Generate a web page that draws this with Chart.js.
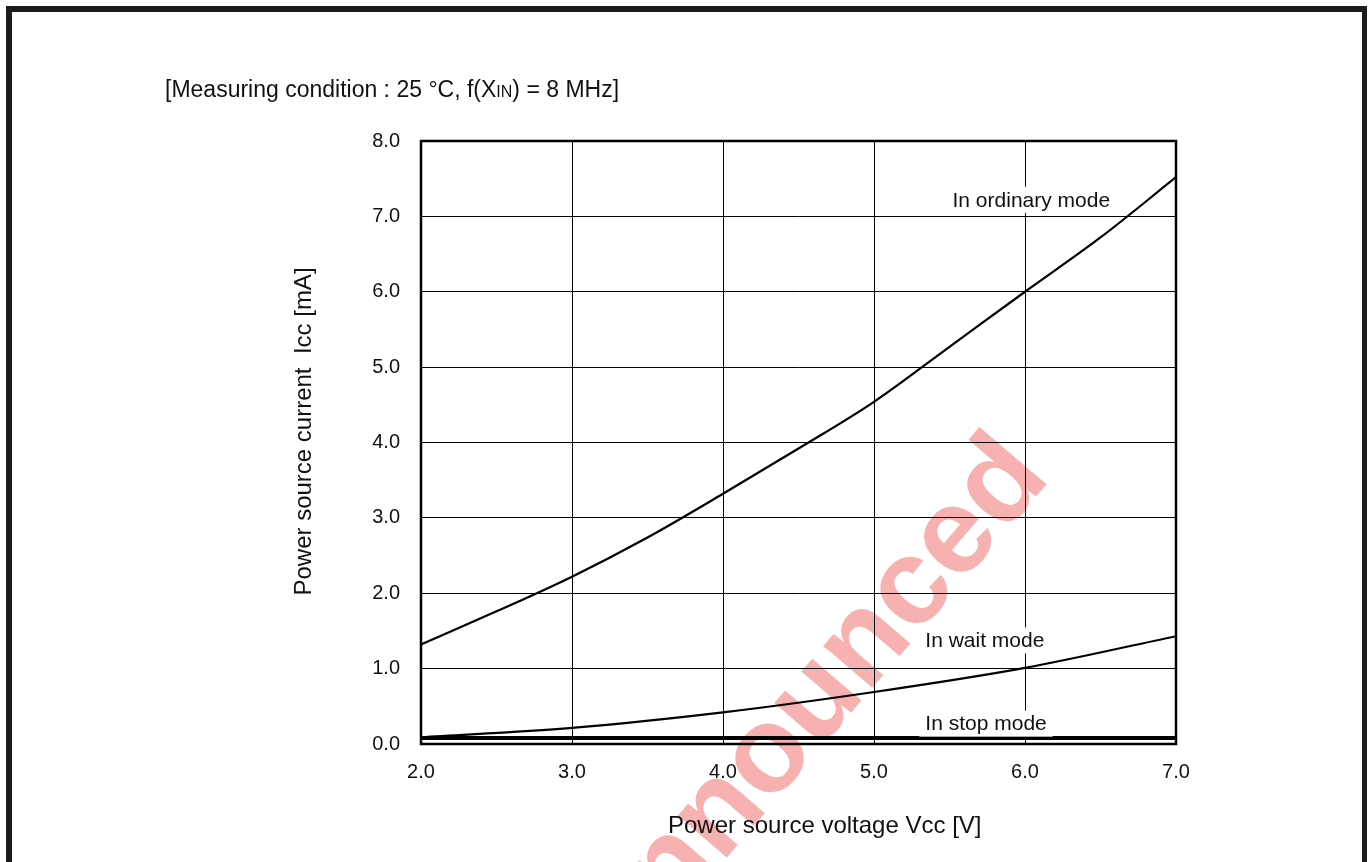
<!DOCTYPE html>
<html>
<head>
<meta charset="utf-8">
<script src="https://cdn.jsdelivr.net/npm/chart.js@4.4.0/dist/chart.umd.min.js"></script>
<style>
  html, body { margin: 0; padding: 0; background: #fff; }
  #wrap { position: relative; width: 1372px; height: 862px; overflow: hidden; }
  #frame { position: absolute; left: 6px; top: 6px; width: 1361px; height: 920px; border: 6px solid #1c1c1c; border-right-width: 5px; box-sizing: border-box; pointer-events: none; }
  #chart { position: absolute; left: 0; top: 0; }
</style>
</head>
<body>
<div id="wrap">
  <canvas id="chart" width="1372" height="862"></canvas>
  <div id="frame"></div>
</div>
<script>
// Vcc [V] vs Icc [mA]
const voltage = [2.0, 2.5, 3.0, 3.5, 4.0, 4.5, 5.0, 5.5, 6.0, 6.5, 7.0];
const ordinaryMode = [1.32, 1.76, 2.22, 2.74, 3.32, 3.92, 4.54, 5.27, 6.0, 6.72, 7.52];
const waitVoltage = [2.0, 3.0, 4.0, 5.0, 6.0, 7.0];
const waitMode = [0.09, 0.215, 0.42, 0.69, 1.01, 1.43];
const stopVoltage = [2.0, 7.0];
const stopMode = [0.08, 0.08];
const seriesNames = ['In ordinary mode', 'In wait mode', 'In stop mode'];

const FONT = '"Liberation Sans", Arial, sans-serif';

function toPoints(xs, ys) {
    return xs.map((x, i) => ({ x: x, y: ys[i] }));
}

const annotate = {
    id: 'annotate',
    beforeDraw(chart) {
        // watermark
        const ctx = chart.ctx;
        ctx.save();
        ctx.translate(1052, 478);
        ctx.rotate(-49.4 * Math.PI / 180);
        ctx.font = 'bold 122px ' + FONT;
        ctx.fillStyle = 'rgba(235, 70, 70, 0.42)';
        ctx.textAlign = 'right';
        ctx.textBaseline = 'alphabetic';
        ctx.fillText('Announced', 0, 0);
        ctx.restore();
    },
    afterDatasetsDraw(chart) {
        const ctx = chart.ctx;
        const xs = chart.scales.x, ys = chart.scales.y;
        const a = chart.chartArea;

        // curve labels with white boxes
        const anchors = [[5.52, 7.22], [5.34, 1.375], [5.34, 0.27]];
        ctx.save();
        ctx.font = '21px ' + FONT;
        ctx.textBaseline = 'middle';
        ctx.textAlign = 'left';
        seriesNames.forEach((name, i) => {
            const px = xs.getPixelForValue(anchors[i][0]);
            const py = ys.getPixelForValue(anchors[i][1]);
            const w = ctx.measureText(name).width;
            ctx.fillStyle = '#fff';
            ctx.fillRect(px - 6, py - 13, w + 12, 26);
            ctx.fillStyle = '#111';
            ctx.fillText(name, px, py + 1);
        });

        // plot frame
        ctx.strokeStyle = '#000';
        ctx.lineWidth = 2.5;
        ctx.strokeRect(a.left, a.top, a.right - a.left, a.bottom - a.top);
        ctx.restore();
    },
    afterDraw(chart) {
        const ctx = chart.ctx;
        const a = chart.chartArea;
        ctx.save();
        ctx.fillStyle = '#111';
        ctx.textBaseline = 'alphabetic';
        ctx.textAlign = 'left';

        // measuring condition caption
        let x = 165;
        const base = 97;
        const parts = [['[Measuring condition : 25 \u00B0C, f(X', 23], ['IN', 16], [') = 8 MHz]', 23]];
        parts.forEach(p => {
            ctx.font = p[1] + 'px ' + FONT;
            ctx.fillText(p[0], x, base);
            x += ctx.measureText(p[0]).width;
        });

        // x axis title
        ctx.font = '24px ' + FONT;
        ctx.fillText('Power source voltage Vcc [V]', a.left + 247, 833);

        // y axis title
        ctx.translate(a.left - 110, (a.top + a.bottom) / 2 - 11);
        ctx.rotate(-Math.PI / 2);
        ctx.textAlign = 'center';
        ctx.fillText('Power source current  Icc [mA]', 0, 0);
        ctx.restore();
    }
};

const ctx = document.getElementById('chart');
const iccChart = new Chart(ctx, {
    type: 'line',
    data: {
        datasets: [{
            label: seriesNames[0],
            data: toPoints(voltage, ordinaryMode),
            borderColor: '#000',
            borderWidth: 2.2,
            pointRadius: 0,
            tension: 0.3,
            cubicInterpolationMode: 'monotone'
        }, {
            label: seriesNames[1],
            data: toPoints(waitVoltage, waitMode),
            borderColor: '#000',
            borderWidth: 2.2,
            pointRadius: 0,
            cubicInterpolationMode: 'monotone'
        }, {
            label: seriesNames[2],
            data: toPoints(stopVoltage, stopMode),
            borderColor: '#000',
            borderWidth: 4,
            pointRadius: 0
        }]
    },
    options: {
        responsive: false,
        animation: false,
        layout: { padding: { top: 141, right: 196, left: 0, bottom: 0 } },
        plugins: {
            legend: { display: false },
            tooltip: { enabled: false }
        },
        scales: {
            x: {
                type: 'linear',
                min: 2,
                max: 7,
                afterFit: s => { s.height = 118; },
                ticks: {
                    stepSize: 1,
                    padding: 16,
                    color: '#111',
                    font: { family: FONT, size: 20 },
                    callback: v => v.toFixed(1)
                },
                grid: { color: '#000', lineWidth: 1, drawTicks: false },
                border: { display: false }
            },
            y: {
                min: 0,
                max: 8,
                afterFit: s => { s.width = 421; },
                ticks: {
                    stepSize: 1,
                    padding: 21,
                    color: '#111',
                    font: { family: FONT, size: 20 },
                    callback: v => v.toFixed(1)
                },
                grid: { color: '#000', lineWidth: 1, drawTicks: false },
                border: { display: false }
            }
        }
    },
    plugins: [annotate]
});
</script>
</body>
</html>
